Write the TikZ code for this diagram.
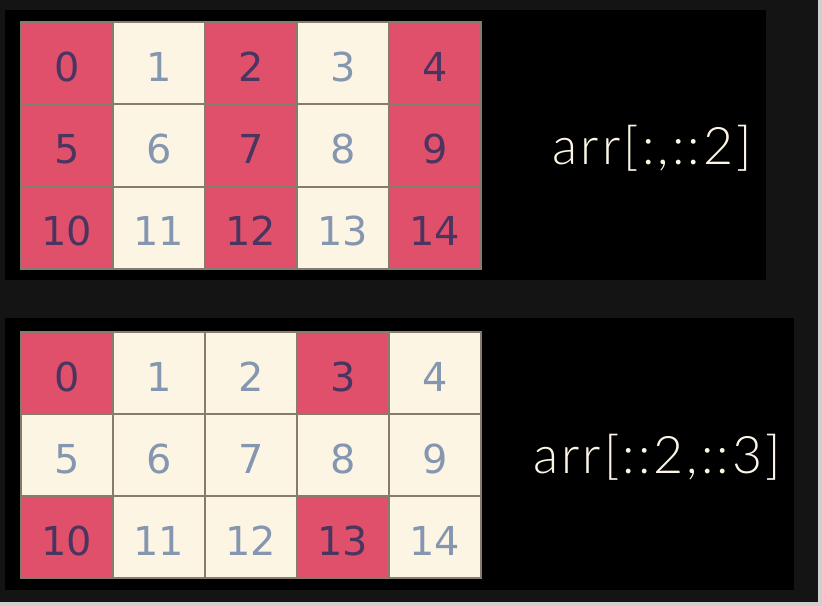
\documentclass[tikz,border=0pt]{standalone}
\usepackage{fontspec}
\newfontfamily\digitfont{DejaVu Sans}
\newfontfamily\lblfont[LetterSpace=6]{Lato Light}
\definecolor{outerbg}{HTML}{141414}
\definecolor{edgegray}{HTML}{CFCFCF}
\definecolor{pinkcell}{HTML}{E0506A}
\definecolor{creamcell}{HTML}{FDF5E4}
\definecolor{pinktext}{HTML}{4A3460}
\definecolor{creamtext}{HTML}{8496B0}
\definecolor{gridline}{HTML}{857C6E}
\tikzset{
  cell/.style={draw=gridline, line width=1.5bp, minimum width=92bp, minimum height=82bp,
    inner sep=0pt, outer sep=0pt, text height=36bp, text depth=0pt,
    font=\digitfont\fontsize{40}{40}\selectfont},
  hot/.style={cell, fill=pinkcell, text=pinktext},
  cold/.style={cell, fill=creamcell, text=creamtext},
  lbl/.style={text=creamcell!90!white, font=\lblfont\fontsize{52}{52}\selectfont, inner sep=0pt}
}
\begin{document}
\begin{tikzpicture}[x=1bp, y=-1bp]
\useasboundingbox (0,0) rectangle (822,606);
\fill[edgegray] (0,0) rectangle (822,606);
\fill[outerbg] (0,0) rectangle (818,602);
\fill[black] (5,10) rectangle (766,280);
\fill[black] (5,318) rectangle (794,590);
% top grid: arr[:,::2]
\foreach \r in {0,1,2}{
  \foreach \c in {0,...,4}{
    \pgfmathtruncatemacro{\n}{5*\r+\c}
    \pgfmathtruncatemacro{\odd}{mod(\c,2)}
    \ifnum\odd=0
      \node[hot] (t\n) at ({21+46+92*\c},{22+41.2+82.3*\r}) {\n};
    \else
      \node[cold] (t\n) at ({21+46+92*\c},{22+41.2+82.3*\r}) {\n};
    \fi
  }
}
% bottom grid: arr[::2,::3]
\foreach \r in {0,1,2}{
  \foreach \c in {0,...,4}{
    \pgfmathtruncatemacro{\n}{5*\r+\c}
    \pgfmathtruncatemacro{\sel}{(mod(\r,2)==0)&&(mod(\c,3)==0)}
    \ifnum\sel=1
      \node[hot] (b\n) at ({21+46+92*\c},{332+41+82*\r}) {\n};
    \else
      \node[cold] (b\n) at ({21+46+92*\c},{332+41+82*\r}) {\n};
    \fi
  }
}
\node[lbl] (ltop) at (652,148) {arr[:,::2]};
\node[lbl] (lbot) at (657,457) {arr[::2,::3]};
\end{tikzpicture}
\end{document}
